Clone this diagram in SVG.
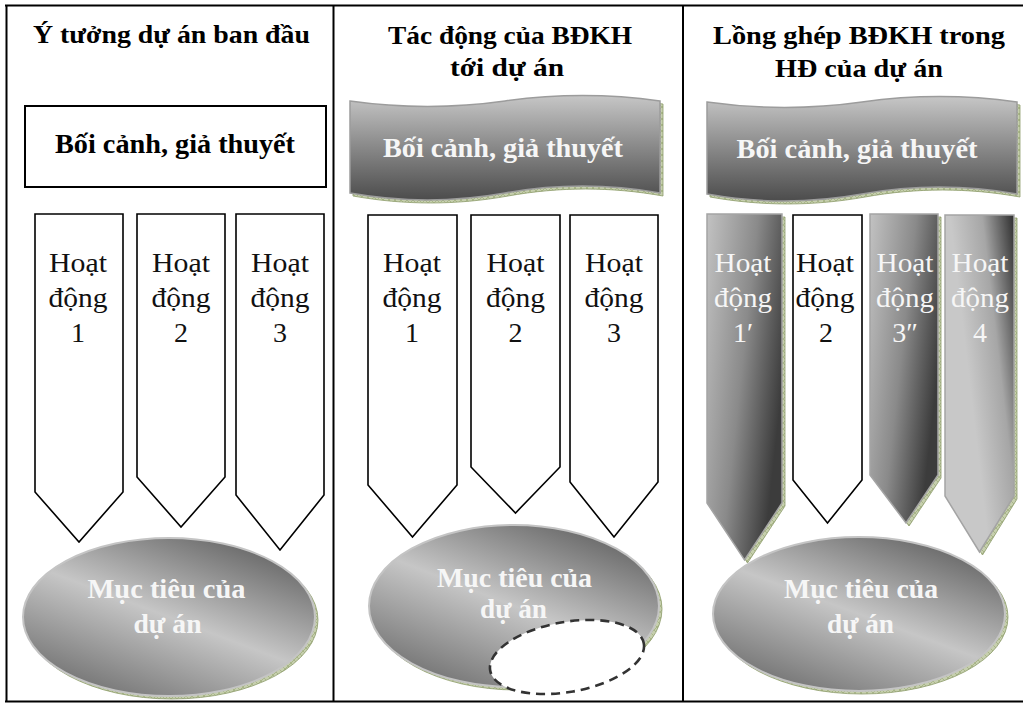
<svg xmlns="http://www.w3.org/2000/svg" xmlns:xlink="http://www.w3.org/1999/xlink" width="1023" height="704" viewBox="0 0 1023 704">
  <defs>
    <style>
      .frame{stroke:#000;stroke-width:2;fill:none}
      .title{font-family:"Liberation Serif","Times New Roman",serif;font-weight:bold;font-size:26px;fill:#000;text-anchor:middle}
      .head{font-family:"Liberation Serif","Times New Roman",serif;font-weight:bold;font-size:27px;text-anchor:middle}
      .lbl{font-family:"Liberation Serif","Times New Roman",serif;font-size:28px;fill:#111;text-anchor:middle}
      .light{fill:#f6f6f6}
      .dark{fill:#000}
      .box{fill:#fff;stroke:#000;stroke-width:2}
      .arrow{fill:#fff;stroke:#000;stroke-width:1.6;stroke-linejoin:miter}
      .garrow{stroke:#a4a4a4;stroke-width:1.5}
      .shadow{fill:url(#hatch);stroke:#8d9c6a;stroke-width:0.8}
      .banner{fill:url(#gBanner);stroke:#9c9c9c;stroke-width:1.5}
      .goal{fill:url(#gGoal);stroke:#c4c4c4;stroke-width:2}
      .gap{fill:#fff;stroke:#333;stroke-width:2.6;stroke-dasharray:9 6}
    </style>
    <!-- olive hatched drop shadow -->
    <pattern id="hatch" width="6" height="6" patternUnits="userSpaceOnUse">
      <rect width="6" height="6" fill="#c6cfae"/>
      <path d="M0,0 L6,6 M6,0 L0,6" stroke="#93a36f" stroke-width="0.6"/>
    </pattern>
    <linearGradient id="gBanner" x1="0" y1="0" x2="0" y2="1">
      <stop offset="0" stop-color="#c6c6c6"/>
      <stop offset="0.45" stop-color="#8e8e8e"/>
      <stop offset="1" stop-color="#4c4c4c"/>
    </linearGradient>
    <linearGradient id="gGoal" x1="0.85" y1="0" x2="0.15" y2="1">
      <stop offset="0" stop-color="#5c5c5c"/>
      <stop offset="0.5" stop-color="#c6c6c6"/>
      <stop offset="1" stop-color="#6a6a6a"/>
    </linearGradient>
    <linearGradient id="gAct" x1="0" y1="0" x2="1" y2="0.5">
      <stop offset="0" stop-color="#c2c2c2"/>
      <stop offset="0.55" stop-color="#8a8a8a"/>
      <stop offset="1" stop-color="#3c3c3c"/>
    </linearGradient>
    <linearGradient id="gAct4" x1="1" y1="0" x2="0.3" y2="0.4">
      <stop offset="0" stop-color="#2e2e2e"/>
      <stop offset="0.5" stop-color="#a6a6a6"/>
      <stop offset="1" stop-color="#c8c8c8"/>
    </linearGradient>
    <!-- wave banner outline, origin at top-left corner -->
    <path id="wave" d="M0,0 C51.7,7.3 103.3,7.3 155,0 C206.7,-7.3 258.3,-7.3 310,0 L310,92 C258.3,82.7 206.7,82.7 155,92 C103.3,101.3 51.7,101.3 0,92 Z"/>
  </defs>

  <rect width="1023" height="704" fill="#fff"/>

  <!-- table frame -->
  <g id="frame">
    <line class="frame" x1="5" y1="5.5" x2="1023" y2="5.5"/>
    <line class="frame" x1="6.5" y1="5" x2="6.5" y2="702"/>
    <line class="frame" x1="333.5" y1="5" x2="333.5" y2="702"/>
    <line class="frame" x1="683" y1="5" x2="683" y2="702"/>
    <line class="frame" x1="5" y1="701.5" x2="1023" y2="701.5"/>
  </g>

  <!-- column headings -->
  <g id="title-1">
    <text class="title" x="171.5" y="43" textLength="277" lengthAdjust="spacingAndGlyphs">Ý tưởng dự án ban đầu</text>
  </g>
  <g id="title-2">
    <text class="title" x="510" y="44" textLength="244" lengthAdjust="spacingAndGlyphs">Tác động của BĐKH</text>
    <text class="title" x="507" y="76" textLength="114" lengthAdjust="spacingAndGlyphs">tới dự án</text>
  </g>
  <g id="title-3">
    <text class="title" x="859" y="44" textLength="292" lengthAdjust="spacingAndGlyphs">Lồng ghép BĐKH trong</text>
    <text class="title" x="859" y="77" textLength="168" lengthAdjust="spacingAndGlyphs">HĐ của dự án</text>
  </g>

  <!-- context boxes -->
  <g id="context-1">
    <rect class="box" x="25" y="106" width="301" height="81"/>
    <text class="head dark" x="175" y="153" textLength="240" lengthAdjust="spacingAndGlyphs">Bối cảnh, giả thuyết</text>
  </g>
  <g id="context-2">
    <use xlink:href="#wave" href="#wave" x="353" y="104" class="shadow"/>
    <use xlink:href="#wave" href="#wave" x="350" y="101" class="banner"/>
    <text class="head light" x="503" y="157" textLength="240" lengthAdjust="spacingAndGlyphs">Bối cảnh, giả thuyết</text>
  </g>
  <g id="context-3">
    <use xlink:href="#wave" href="#wave" x="710" y="105" class="shadow"/>
    <use xlink:href="#wave" href="#wave" x="707" y="102" class="banner"/>
    <text class="head light" x="857" y="158" textLength="241" lengthAdjust="spacingAndGlyphs">Bối cảnh, giả thuyết</text>
  </g>

  <!-- activities, column 1 -->
  <g id="act-1-1">
    <polygon class="arrow" points="35,214 123,214 123,492 79,542 35,492"/>
    <text class="lbl" x="78" y="272" textLength="58" lengthAdjust="spacingAndGlyphs">Hoạt</text>
    <text class="lbl" x="78" y="307" textLength="59" lengthAdjust="spacingAndGlyphs">động</text>
    <text class="lbl" x="78" y="342">1</text>
  </g>
  <g id="act-1-2">
    <polygon class="arrow" points="137,214 225,214 225,477 181,527 137,477"/>
    <text class="lbl" x="181" y="272" textLength="58" lengthAdjust="spacingAndGlyphs">Hoạt</text>
    <text class="lbl" x="181" y="307" textLength="59" lengthAdjust="spacingAndGlyphs">động</text>
    <text class="lbl" x="181" y="342">2</text>
  </g>
  <g id="act-1-3">
    <polygon class="arrow" points="236,214 324,214 324,495 280,550 236,495"/>
    <text class="lbl" x="280" y="272" textLength="58" lengthAdjust="spacingAndGlyphs">Hoạt</text>
    <text class="lbl" x="280" y="307" textLength="59" lengthAdjust="spacingAndGlyphs">động</text>
    <text class="lbl" x="280" y="342">3</text>
  </g>

  <!-- activities, column 2 -->
  <g id="act-2-1">
    <polygon class="arrow" points="368,215 457,215 457,485 412.5,537 368,485"/>
    <text class="lbl" x="412" y="272" textLength="58" lengthAdjust="spacingAndGlyphs">Hoạt</text>
    <text class="lbl" x="412" y="307" textLength="59" lengthAdjust="spacingAndGlyphs">động</text>
    <text class="lbl" x="412" y="342">1</text>
  </g>
  <g id="act-2-2">
    <polygon class="arrow" points="471,215 560,215 560,467 515.5,513 471,467"/>
    <text class="lbl" x="515.5" y="272" textLength="58" lengthAdjust="spacingAndGlyphs">Hoạt</text>
    <text class="lbl" x="515.5" y="307" textLength="59" lengthAdjust="spacingAndGlyphs">động</text>
    <text class="lbl" x="515.5" y="342">2</text>
  </g>
  <g id="act-2-3">
    <polygon class="arrow" points="570,215 658,215 658,482 614,537 570,482"/>
    <text class="lbl" x="614" y="272" textLength="58" lengthAdjust="spacingAndGlyphs">Hoạt</text>
    <text class="lbl" x="614" y="307" textLength="59" lengthAdjust="spacingAndGlyphs">động</text>
    <text class="lbl" x="614" y="342">3</text>
  </g>

  <!-- activities, column 3 -->
  <g id="act-3-1">
    <polygon class="shadow" points="710,217 785,217 785,506 747.5,563 710,506"/>
    <polygon class="garrow" fill="url(#gAct)" points="707,214 782,214 782,503 744.5,560 707,503"/>
    <text class="lbl light" x="743" y="272" textLength="57" lengthAdjust="spacingAndGlyphs">Hoạt</text>
    <text class="lbl light" x="743" y="307" textLength="58" lengthAdjust="spacingAndGlyphs">động</text>
    <text class="lbl light" x="743" y="342">1′</text>
  </g>
  <g id="act-3-2">
    <polygon class="arrow" points="793,215 862,215 862,480 827.5,523 793,480"/>
    <text class="lbl" x="825" y="272" textLength="58" lengthAdjust="spacingAndGlyphs">Hoạt</text>
    <text class="lbl" x="825" y="307" textLength="59" lengthAdjust="spacingAndGlyphs">động</text>
    <text class="lbl" x="826" y="342">2</text>
  </g>
  <g id="act-3-3">
    <polygon class="shadow" points="873,217 941,217 941,478 909,526 873,478"/>
    <polygon class="garrow" fill="url(#gAct)" points="870,214 938,214 938,475 906,523 870,475"/>
    <text class="lbl light" x="905" y="272" textLength="57" lengthAdjust="spacingAndGlyphs">Hoạt</text>
    <text class="lbl light" x="905" y="307" textLength="58" lengthAdjust="spacingAndGlyphs">động</text>
    <text class="lbl light" x="905" y="342">3″</text>
  </g>
  <g id="act-3-4">
    <polygon class="shadow" points="948,218 1017,218 1017,499 982.5,555 948,499"/>
    <polygon class="garrow" fill="url(#gAct4)" points="945,215 1014,215 1014,496 979.5,552 945,496"/>
    <text class="lbl light" x="980" y="272" textLength="57" lengthAdjust="spacingAndGlyphs">Hoạt</text>
    <text class="lbl light" x="980" y="307" textLength="58" lengthAdjust="spacingAndGlyphs">động</text>
    <text class="lbl light" x="980" y="342">4</text>
  </g>

  <!-- project goals -->
  <g id="goal-1">
    <ellipse class="shadow" cx="172" cy="620" rx="146" ry="79"/>
    <ellipse class="goal" cx="169" cy="617" rx="146" ry="79"/>
    <text class="head light" x="166.5" y="598" textLength="158" lengthAdjust="spacingAndGlyphs">Mục tiêu của</text>
    <text class="head light" x="167.5" y="633" textLength="68" lengthAdjust="spacingAndGlyphs">dự án</text>
  </g>
  <g id="goal-2">
    <ellipse class="shadow" cx="517" cy="609" rx="145" ry="81"/>
    <ellipse class="goal" cx="514" cy="606" rx="145" ry="81"/>
    <text class="head light" x="514.5" y="587" textLength="155" lengthAdjust="spacingAndGlyphs">Mục tiêu của</text>
    <text class="head light" x="513.5" y="618" textLength="67" lengthAdjust="spacingAndGlyphs">dự án</text>
    <ellipse class="gap" cx="567" cy="657" rx="78" ry="35" transform="rotate(-10 567 657)"/>
  </g>
  <g id="goal-3">
    <ellipse class="shadow" cx="862" cy="617" rx="146" ry="77"/>
    <ellipse class="goal" cx="859" cy="614" rx="146" ry="77"/>
    <text class="head light" x="861" y="598" textLength="154" lengthAdjust="spacingAndGlyphs">Mục tiêu của</text>
    <text class="head light" x="860.5" y="633" textLength="67" lengthAdjust="spacingAndGlyphs">dự án</text>
  </g>
</svg>
